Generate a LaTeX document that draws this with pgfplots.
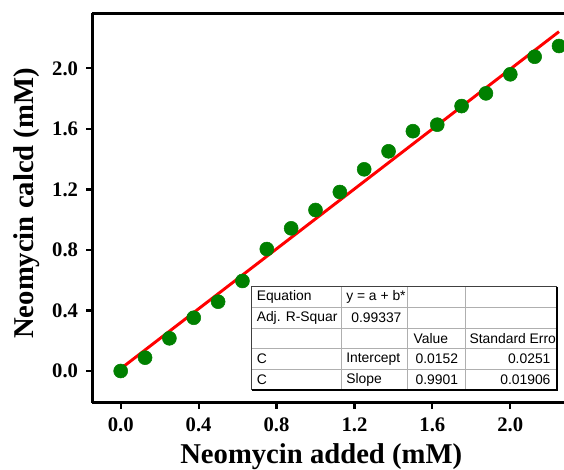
\documentclass[border=0pt]{standalone}
\usepackage{fontspec}
\setmainfont{Liberation Serif}
\newfontfamily\tnr{Liberation Serif}
\newfontfamily\arial{Liberation Sans}
\usepackage{pgfplots}
\pgfplotsset{compat=1.18}
\definecolor{ptgreen}{RGB}{0,128,0}
\definecolor{fitred}{RGB}{255,0,0}
\definecolor{cellgrey}{RGB}{175,175,175}

% Neomycin added vs. calculated (mM)
\pgfplotstableread{
x      y
0      0.000
0.125  0.088
0.250  0.216
0.375  0.352
0.500  0.458
0.625  0.595
0.750  0.806
0.875  0.943
1.000  1.064
1.125  1.183
1.250  1.333
1.375  1.452
1.500  1.585
1.625  1.628
1.750  1.751
1.875  1.835
2.000  1.961
2.125  2.077
2.250  2.148
}\neodata

\begin{document}
\begin{tikzpicture}
\path[use as bounding box] (-90.525pt,-74.25pt) rectangle (332.475pt,278.25pt);
\begin{axis}[
  anchor=origin, at={(0pt,0pt)},
  x=146.1pt, y=113.475pt,
  xmin=-0.147, xmax=2.2757, ymin=-0.21, ymax=2.364,
  clip=false,
  axis x line=box, axis y line*=left,
  axis line style={line width=2.2pt, -},
  xtick={0,0.4,0.8,1.2,1.6,2.0},
  ytick={0,0.4,0.8,1.2,1.6,2.0},
  xtick pos=left, ytick pos=left,
  tick align=outside,
  major tick length=4.5pt,
  tick style={line width=1.6pt, black},
  /pgf/number format/assume math mode=true,
  /pgf/number format/.cd, fixed, zerofill, precision=1, /pgfplots/.cd,
  ticklabel style={font=\tnr\bfseries\fontsize{15.5}{15.5}\selectfont},
  xticklabel style={yshift=-3pt},
  yticklabel style={xshift=-2.5pt},
  xlabel={Neomycin added (mM)},
  ylabel={Neomycin calcd (mM)},
  label style={font=\tnr\bfseries\fontsize{21.5}{21.5}\selectfont},
  xlabel style={at={(axis description cs:0.4855,0)}, anchor=base, yshift=-45.5pt},
  ylabel style={at={(axis description cs:-0.138,0.512)}, anchor=center},
]
\addplot[only marks, mark=*, mark size=5.25pt,
  mark options={fill=ptgreen, draw=ptgreen}] table[x=x, y=y] {\neodata};
% linear fit: y = 0.0152 + 0.9901 x
\addplot[fitred, line width=2.2pt] coordinates {(0,0.0152) (2.25,2.2429)};
\end{axis}

% fit result table
\begin{scope}[shift={(-90.525pt,278.25pt)}, x=0.75pt, y=-0.75pt,
  every node/.style={font=\arial\fontsize{10.4}{12}\selectfont, inner sep=0pt, text=black}]
  \fill[white] (251.7,286.7) rectangle (557,390);
  \foreach \cx in {341.7,407.3,465}
    \draw[cellgrey, line width=0.6pt] (\cx,286.7) -- (\cx,390);
  \foreach \ry in {307.3,328.3,348.3,369.3}
    \draw[cellgrey, line width=0.6pt] (251.7,\ry) -- (557,\ry);
  \draw[black!75, line width=0.7pt] (251.7,390) -- (251.7,286.7) -- (557,286.7);
  \draw[black, line width=1.4pt] (557,286.7) -- (557,390) -- (251.7,390);
  % row 1
  \node[anchor=west] at (256.5,297) {Equation};
  \node[anchor=west] at (346,297) {y = a + b*};
  % row 2
  \node[anchor=west] at (256.5,317.8) {Adj. R-Squar};
  \node[anchor=east] at (401.7,317.8) {0.99337};
  % row 3
  \node[anchor=west] at (413.3,338.3) {Value};
  \node[anchor=west] at (469.3,338.3) {Standard Erro};
  % row 4
  \node[anchor=west] at (256.5,358.8) {C};
  \node[anchor=west] at (346,358.8) {Intercept};
  \node[anchor=east] at (458.3,358.8) {0.0152};
  \node[anchor=east] at (550.7,358.8) {0.0251};
  % row 5
  \node[anchor=west] at (256.5,379.7) {C};
  \node[anchor=west] at (346,379.7) {Slope};
  \node[anchor=east] at (458.3,379.7) {0.9901};
  \node[anchor=east] at (550.7,379.7) {0.01906};
\end{scope}
\end{tikzpicture}
\end{document}
